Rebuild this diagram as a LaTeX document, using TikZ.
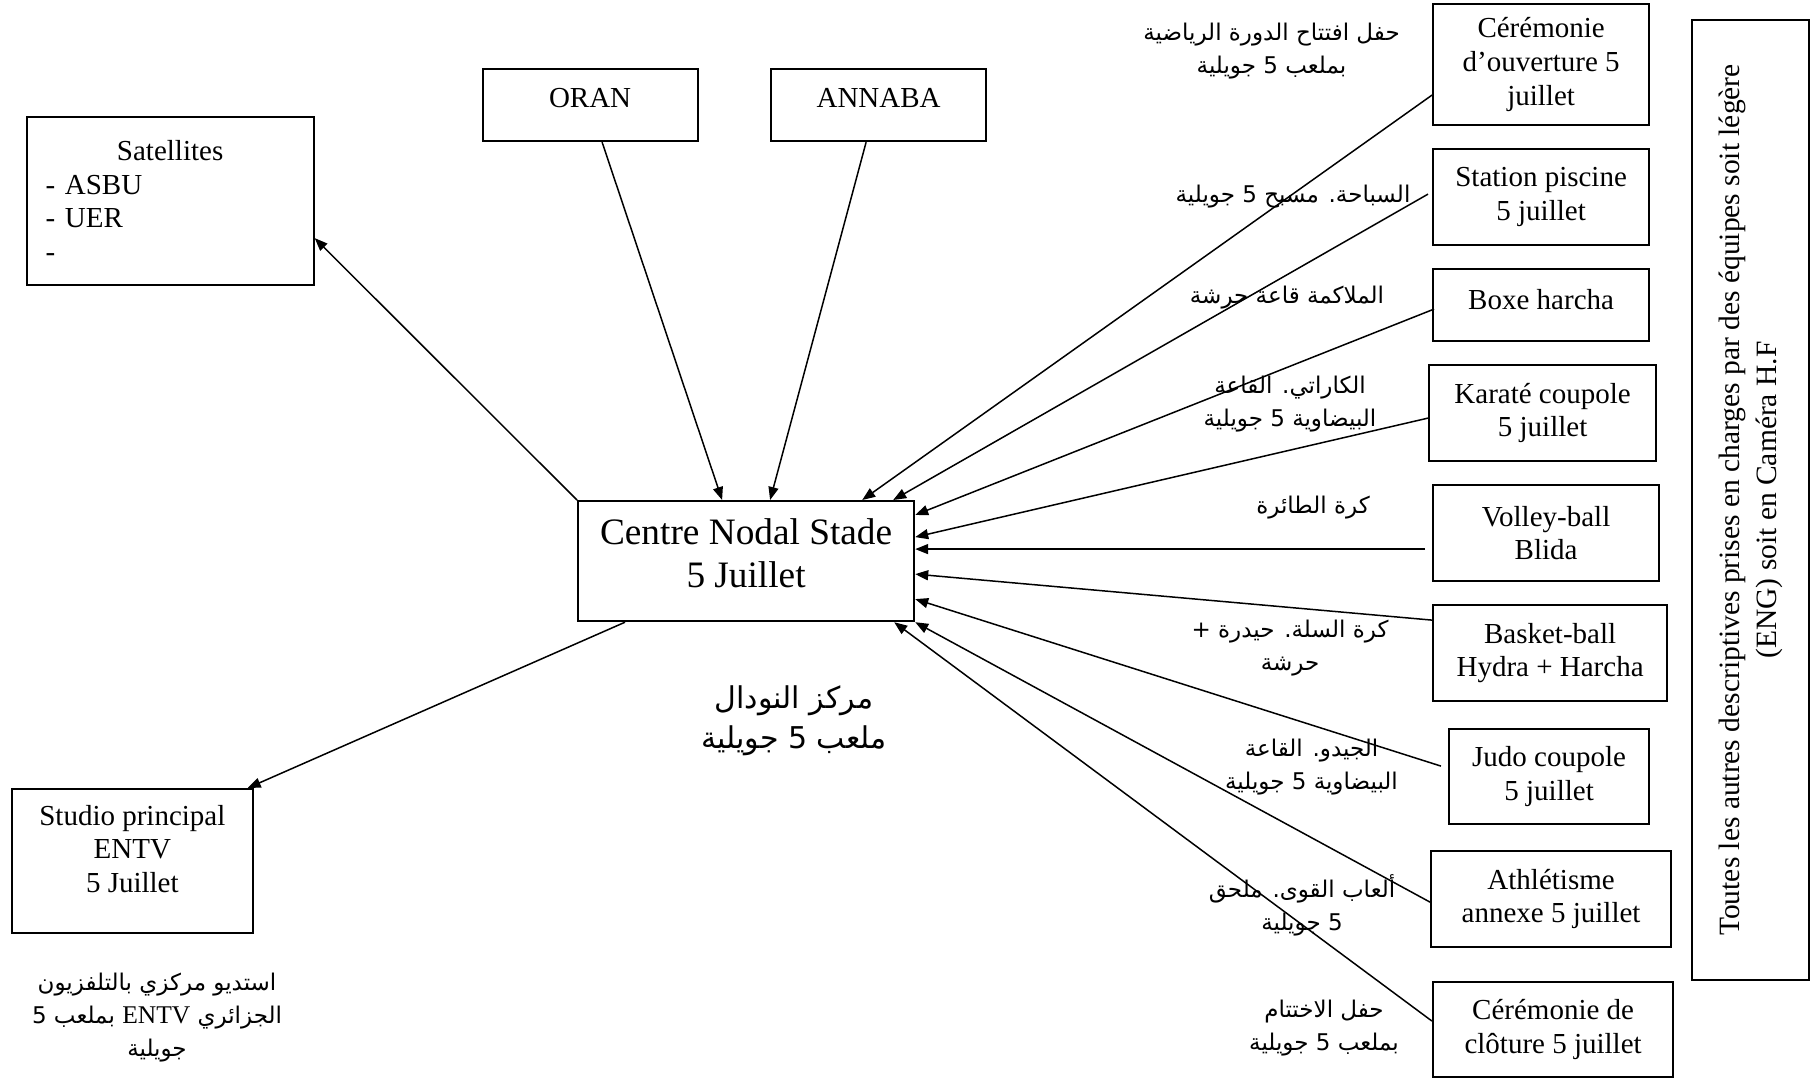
\documentclass[tikz,border=0pt]{standalone}
\usepackage{fontspec}
\setmainfont{Liberation Serif}
\newfontfamily\arabicfont[Script=Arabic]{DejaVu Sans}
\TeXXeTstate=1
\usetikzlibrary{arrows.meta,calc}
\newcommand{\RL}[1]{\beginR #1\endR}
\newcommand{\LatinIn}[1]{\beginL{\rmfamily\fontsize{25.5}{33}\selectfont #1}\endL}
\begin{document}
\begin{tikzpicture}[x=1pt,y=-1pt,
  box/.style={draw, line width=2.2pt, inner sep=0pt, align=center, anchor=north west,
              font=\fontsize{29}{33.6}\selectfont},
  lab/.style={inner sep=0pt, align=center, font=\arabicfont\fontsize{23}{33}\selectfont},
  biglab/.style={inner sep=0pt, align=center, font=\arabicfont\fontsize{30}{40}\selectfont},
  con/.style={line width=1.5pt, -{Triangle[length=13pt,width=10pt]}}]
\fill[white] (0,0) rectangle (1810,1077);
\useasboundingbox (0,0) rectangle (1810,1077);

% boxes
\node[box, minimum width=287, minimum height=168, text width=249, align=left] (sat) at (25.5,116)
  {\makebox[\linewidth][c]{Satellites}\\- ASBU\\- UER\\-};
\node[box, minimum width=215, minimum height=72] (oran) at (481.5,68) {\raisebox{7pt}[\height][\depth]{ORAN}};
\node[box, minimum width=215, minimum height=72] (annaba) at (770,68) {\raisebox{7pt}[\height][\depth]{ANNABA}};
\node[box, minimum width=336, minimum height=120, font=\fontsize{37.3}{43.5}\selectfont] (centre) at (577,500)
  {\raisebox{4pt}[\height][\depth]{\begin{tabular}{@{}c@{}}Centre Nodal Stade\\5 Juillet\end{tabular}}};
\node[box, minimum width=240.5, minimum height=144] (studio) at (11,788)
  {\raisebox{9pt}[\height][\depth]{\begin{tabular}{@{}c@{}}Studio principal\\ENTV\\5 Juillet\end{tabular}}};

\node[box, minimum width=216, minimum height=121] (cer) at (1432,3) {Cérémonie\\d’ouverture 5\\juillet};
\node[box, minimum width=216, minimum height=96] (sta) at (1432,148) {Station piscine\\5 juillet};
\node[box, minimum width=216, minimum height=72] (boxe) at (1432,268) {\raisebox{6pt}[\height][\depth]{Boxe harcha}};
\node[box, minimum width=227, minimum height=96] (kar) at (1428,364) {Karaté coupole\\5 juillet};
\node[box, minimum width=226, minimum height=96] (vol) at (1432,484) {Volley-ball\\Blida};
\node[box, minimum width=234, minimum height=96] (bas) at (1432,604) {Basket-ball\\Hydra + Harcha};
\node[box, minimum width=200, minimum height=95] (judo) at (1448,728) {Judo coupole\\5 juillet};
\node[box, minimum width=240, minimum height=96] (ath) at (1430,850) {Athlétisme\\annexe 5 juillet};
\node[box, minimum width=240, minimum height=95] (clo) at (1432,981) {Cérémonie de\\clôture 5 juillet};

\node[draw, line width=2.2pt, inner sep=0pt, align=center, rotate=90,
      minimum width=960, minimum height=117, font=\fontsize{29.5}{37}\selectfont] (note) at (1750.5,500)
  {Toutes les autres descriptives prises en charges par des équipes soit légère\\(ENG) soit en Caméra H.F};

% Arabic labels
\node[lab] (l1) at (1271.5,51.5) {\RL{حفل افتتاح الدورة الرياضية}\\\RL{بملعب 5 جويلية}};
\node[lab] (l2) at (1293,197) {\RL{السباحة. مسبح 5 جويلية}};
\node[lab] (l3) at (1287,298) {\RL{الملاكمة قاعة حرشة}};
\node[lab] (l4) at (1290,404) {\RL{الكاراتي. القاعة}\\\RL{البيضاوية 5 جويلية}};
\node[lab] (l5) at (1313,508) {\RL{كرة الطائرة}};
\node[lab] (l6) at (1290,648.5) {\RL{كرة السلة. حيدرة +}\\\RL{حرشة}};
\node[lab] (l7) at (1311.5,767.5) {\RL{الجيدو. القاعة}\\\RL{البيضاوية 5 جويلية}};
\node[lab] (l8) at (1302,905) {\RL{ألعاب القوى. ملحق}\\\RL{5 جويلية}};
\node[lab] (l9) at (1324,1028) {\RL{حفل الاختتام}\\\RL{بملعب 5 جويلية}};
\node[biglab] (l10) at (794,721) {\RL{مركز النودال}\\\RL{ملعب 5 جويلية}};
\node[lab] (l11) at (157,1018) {\RL{استديو مركزي بالتلفزيون}\\\RL{الجزائري \LatinIn{ENTV} بملعب 5}\\\RL{جويلية}};

% connectors
\draw[con] (centre.north west) -- ($(sat.east)+(0,37)$);
\draw[con] ($(oran.south)+(12,0)$) -- ($(centre.north)+(-24,0)$);
\draw[con] ($(annaba.south)+(-12.5,0)$) -- ($(centre.north)+(24,0)$);
\draw[con] ($(cer.west)+(0,30.5)$) -- ($(centre.north east)+(-53,0)$);
\draw[con] ($(sta.west)+(-4,-3)$) -- ($(centre.north east)+(-22,0)$);
\draw[con] ($(boxe.west)+(2,4)$) -- ($(centre.north east)+(0,15)$);
\draw[con] ($(kar.west)+(0,5)$) -- ($(centre.east)+(0,-24)$);
\draw[con] ($(vol.west)+(-7,16)$) -- ($(centre.east)+(0,-12)$);
\draw[con] ($(bas.west)+(0,-33)$) -- ($(centre.east)+(0,13)$);
\draw[con] ($(judo.west)+(-7,-10.5)$) -- ($(centre.east)+(0,38)$);
\draw[con] ($(ath.west)+(0,3)$) -- (centre.south east);
\draw[con] ($(clo.west)+(0,-8.5)$) -- ($(centre.south east)+(-21,0)$);
\draw[con] ($(centre.south west)+(48,0)$) -- ($(studio.north east)+(-6,0)$);
\end{tikzpicture}
\end{document}
